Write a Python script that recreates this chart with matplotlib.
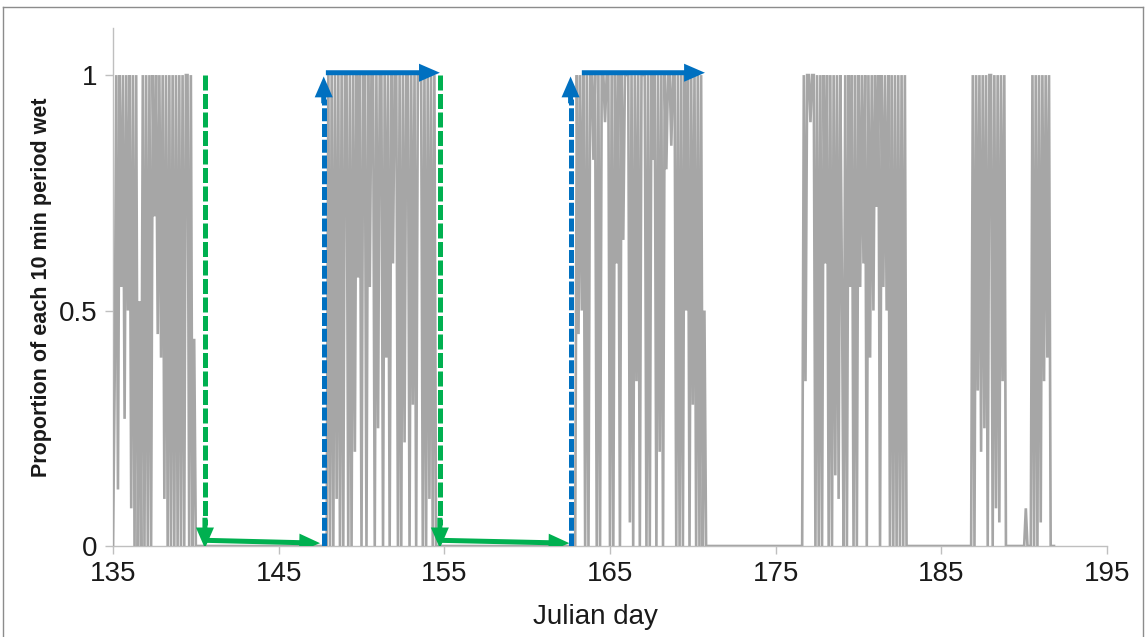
import numpy as np
import matplotlib.pyplot as plt
from matplotlib.patches import FancyArrowPatch
from matplotlib.lines import Line2D

plt.rcParams['font.family'] = ['Liberation Sans', 'DejaVu Sans']

# wetness record, one value per 0.1 day; dry (0) outside the listed wet spells
day_start = 135.0
day_end = 191.8
step = 0.1

wet1_start = 135.1
wet1 = [0.35, 1, 0.12, 1, 0.55, 1, 0.27, 1, 0.5, 1,
        0.08, 1, 0, 1, 0, 0.52, 0, 1, 0, 1,
        0, 1, 0, 1, 0.7, 1, 0.45, 1, 0.4, 1,
        0.1, 1, 0, 1, 0, 1, 0, 1, 0, 1,
        0, 1, 0, 1, 1, 0, 1, 0, 0.44]

wet2_start = 148.0
wet2 = [1, 0, 1, 0, 1, 0.1, 1, 0, 1, 0,
        1, 1, 0, 1, 0, 1, 0.2, 1, 0.57, 1,
        0, 1, 1, 0, 1, 0.55, 1, 1, 0, 1,
        0.25, 1, 1, 0, 1, 0.4, 1, 0, 1, 0.6,
        1, 1, 0, 1, 0, 1, 0.22, 1, 1, 0,
        1, 0.3, 1, 0, 1, 1, 1, 0, 1, 0,
        1, 0.1, 1, 0, 1, 0]

wet3_start = 163.0
wet3 = [1, 0.45, 1, 0.5, 1, 0, 1, 0, 1, 1,
        0.82, 1, 0, 1, 0, 1, 1, 0.9, 1, 1,
        0, 1, 0, 1, 0.6, 1, 0, 1, 0.65, 1,
        1, 1, 0.05, 1, 0, 1, 0.35, 1, 0, 1,
        1, 1, 0, 1, 0, 1, 0.82, 1, 0, 1,
        0.2, 1, 0, 1, 0.8, 1, 1, 0.85, 1, 1,
        0, 1, 0, 1, 0, 1, 0.5, 1, 0, 1,
        0.3, 1, 0, 1, 0, 1, 0, 0.5]

wet4_start = 176.6
wet4 = [0, 1, 0.35, 1, 1, 0.9, 1, 1, 0, 1,
        0, 1, 0, 1, 0.6, 1, 0, 1, 0, 1,
        0.15, 1, 0.1, 1, 0.55, 0, 1, 0, 1, 0.55,
        1, 0, 1, 0, 1, 0.55, 1, 0.6, 1, 0,
        1, 0.4, 1, 0.5, 1, 0.72, 1, 0, 1, 0.55,
        1, 0.5, 1, 0, 1, 0, 1, 0, 1, 0,
        1, 0, 1]

wet5_start = 186.9
wet5 = [1, 0, 1, 0.33, 1, 0.2, 1, 0.25, 1, 0,
        1, 1, 0, 1, 0.08, 1, 0.05, 1, 0.35, 1, 0]

wet6_start = 190.1
wet6 = [0.08, 0, 0, 0, 1, 0, 1, 0, 1, 0.05,
        1, 0.35, 1, 0.4, 1, 0]

spells = [(wet1_start, wet1), (wet2_start, wet2), (wet3_start, wet3),
          (wet4_start, wet4), (wet5_start, wet5), (wet6_start, wet6)]

days = day_start + step * np.arange(int(round((day_end - day_start) / step)) + 1)
wet = np.zeros_like(days)
for start, vals in spells:
    i0 = int(round((start - day_start) / step))
    wet[i0:i0 + len(vals)] = vals

# dry-down (green) and re-wetting (blue) intervals marked on the record
green = '#00B050'
blue = '#0070C0'
dry_down_days = [140.55, 154.73]
dry_end_days = [147.5, 162.55]
rewet_days = [147.72, 162.62]
wet_end_days = [154.73, 170.73]

fig = plt.figure(figsize=(11.46, 6.37), dpi=100)
ax = fig.add_axes([113 / 1146, 91 / 637, 994 / 1146, 518 / 637])

ax.plot(days, wet, color='#A6A6A6', lw=1.9, solid_joinstyle='miter', zorder=2)

head = 'simple,head_length=15,head_width=13,tail_width=3.6'
for x0, x1 in zip(dry_down_days, dry_end_days):
    ax.plot([x0, x0], [1.0, 0.045], color=green, lw=3.6,
            ls=(0, (3, 0.7)), solid_capstyle='butt', zorder=4)
    ax.add_patch(FancyArrowPatch((x0, 0.06), (x0, -0.005), arrowstyle=head,
                                 mutation_scale=1, color=green, lw=0,
                                 shrinkA=0, shrinkB=0, zorder=5))
    ax.add_patch(FancyArrowPatch((x0 + 0.1, 0.012), (x1, 0.006), arrowstyle=head,
                                 mutation_scale=1, color=green, lw=0,
                                 shrinkA=0, shrinkB=0, zorder=5))

for x0 in rewet_days:
    ax.plot([x0, x0], [0.0, 0.95], color=blue, lw=3.6,
            ls=(0, (2.6, 0.55)), solid_capstyle='butt', zorder=4)
    ax.add_patch(FancyArrowPatch((x0, 0.94), (x0, 0.997), arrowstyle=head,
                                 mutation_scale=1, color=blue, lw=0,
                                 shrinkA=0, shrinkB=0, zorder=5))

for x0, x1 in zip([147.85, 163.3], wet_end_days):
    ax.add_patch(FancyArrowPatch((x0, 1.005), (x1, 1.005), arrowstyle=head,
                                 mutation_scale=1, color=blue, lw=0,
                                 shrinkA=0, shrinkB=0, zorder=5))

ax.set_xlim(135, 195)
ax.set_ylim(0, 1.1)
ax.set_xticks(np.arange(135, 196, 10))
ax.set_yticks([0, 0.5, 1])
ax.set_yticklabels(['0', '0.5', '1'])
for side in ['top', 'right']:
    ax.spines[side].set_visible(False)
for side in ['left', 'bottom']:
    ax.spines[side].set_color('#BFBFBF')
    ax.spines[side].set_linewidth(1.0)
    ax.spines[side].set_zorder(1)
ax.tick_params(colors='#BFBFBF', labelcolor='#1a1a1a', labelsize=20, length=6, width=1)
ax.tick_params(axis='x', pad=5)
ax.tick_params(axis='y', pad=5)

ax.set_ylabel('Proportion of each 10 min period wet', fontsize=15.5, fontweight='bold',
              color='#1a1a1a')
ax.yaxis.set_label_coords(-0.0614, 0.5)
fig.text(595 / 1146, 1 - 617 / 637, 'Julian day', fontsize=20, color='#1a1a1a',
         ha='center', va='center')

# thin frame round the figure
frame = dict(color='#8C8C8C', lw=1.0, transform=fig.transFigure)
fig.add_artist(Line2D([3 / 1146, 3 / 1146], [0, 1 - 7 / 637], **frame))
fig.add_artist(Line2D([3 / 1146, 1143 / 1146], [1 - 7 / 637, 1 - 7 / 637], **frame))
fig.add_artist(Line2D([1143 / 1146, 1143 / 1146], [0, 1 - 7 / 637], **frame))

fig.savefig('out.png', dpi=100)
